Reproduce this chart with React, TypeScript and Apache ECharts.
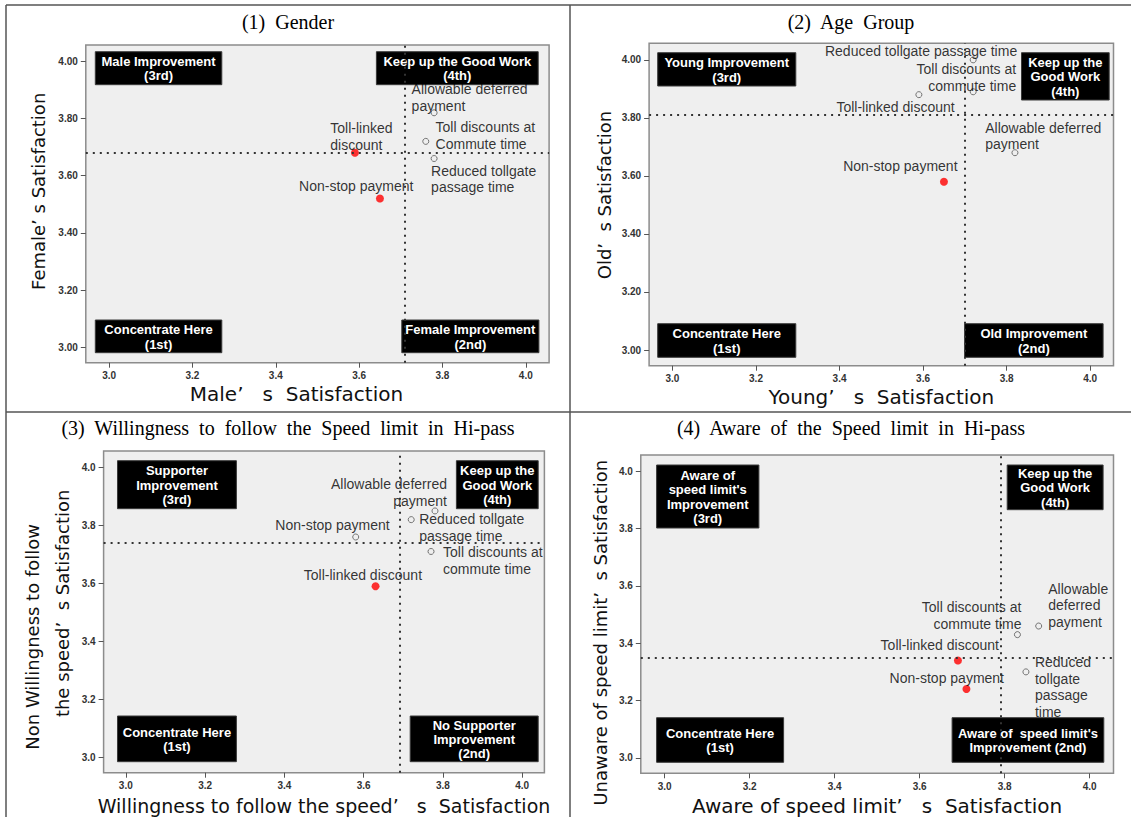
import React, { useEffect, useRef } from "react";
import * as echarts from "echarts";

// ---------------- data ----------------
const xTicks = [3.0, 3.2, 3.4, 3.6, 3.8, 4.0];
const yTicks = [3.0, 3.2, 3.4, 3.6, 3.8, 4.0];

// (1) Gender: x = Male, y = Female
const p1Labels = ["Allowable deferred\npayment", "Toll discounts at\nCommute time", "Reduced tollgate\npassage time", "Toll-linked\ndiscount", "Non-stop payment"];
const p1X = [3.78, 3.76, 3.78, 3.59, 3.65];
const p1Y = [3.82, 3.72, 3.66, 3.68, 3.52];
const p1Red = [false, false, false, true, true];
const p1CutX = 3.71;
const p1CutY = 3.68;

// (2) Age group: x = Young, y = Old
const p2Labels = ["Reduced tollgate passage time", "Toll discounts at\ncommute time", "Toll-linked discount", "Allowable deferred\npayment", "Non-stop payment"];
const p2X = [3.72, 3.72, 3.59, 3.82, 3.65];
const p2Y = [4.0, 3.89, 3.88, 3.68, 3.58];
const p2Red = [false, false, false, false, true];
const p2CutX = 3.70;
const p2CutY = 3.806;

// (3) Willingness to follow speed limit
const p3Labels = ["Allowable deferred\npayment", "Reduced tollgate\npassage time", "Non-stop payment", "Toll discounts at\ncommute time", "Toll-linked discount"];
const p3X = [3.78, 3.72, 3.58, 3.77, 3.63];
const p3Y = [3.85, 3.82, 3.76, 3.71, 3.59];
const p3Red = [false, false, false, false, true];
const p3CutX = 3.69;
const p3CutY = 3.74;

// (4) Aware of speed limit
const p4Labels = ["Toll discounts at\ncommute time", "Allowable\ndeferred\npayment", "Toll-linked discount", "Reduced\ntollgate\npassage\ntime", "Non-stop payment"];
const p4X = [3.83, 3.88, 3.69, 3.85, 3.71];
const p4Y = [3.43, 3.46, 3.34, 3.30, 3.24];
const p4Red = [false, false, true, false, true];
const p4CutX = 3.79;
const p4CutY = 3.35;

// ---------------- layout (pixels / styling) ----------------
const LH = 16.7;
// label offsets from point: [dx, dy of first line centre, align]
const p1Layout: any[] = [[-22.5, -23.7, "left"], [9.8, -14, "left"], [-3, 12, "left"], [-24.7, -24.7, "left"], [33.5, -12.3, "right"]];
const p2Layout: any[] = [[44, -8.6, "right"], [43, -22.7, "right"], [35.8, 12.6, "right"], [-29.7, -25, "left"], [13.6, -16, "right"]];
const p3Layout: any[] = [[12, -26.7, "right"], [8, -0.7, "left"], [34, -11.7, "right"], [12, 1, "left"], [46.5, -11.7, "right"]];
const p4Layout: any[] = [[4, -27.6, "right"], [9.6, -37.4, "left"], [41, -15.7, "right"], [9, -10, "left"], [37.6, -10.6, "right"]];

const panels = [
  {
    title: "(1)  Gender", tx: 288, ty: 22,
    grid: { left: 85.8, top: 45, width: 463.3, height: 317.7 },
    xName: "Male\u2019   s  Satisfaction", xGap: 20.3, xFont: 20, xPad: [0, 42, 0, 0],
    yName: "Female\u2019 s Satisfaction", yGap: 37.6, yPad: [0, 0, 0, 25], yRich: false, yDigits: 2,
    labels: p1Labels, xs: p1X, ys: p1Y, red: p1Red, cutX: p1CutX, cutY: p1CutY, layout: p1Layout,
    boxes: [
      [95.3, 51.7, 126.5, 33, "Male Improvement\n(3rd)"],
      [376.4, 51.7, 161.8, 33, "Keep up the Good Work\n(4th)"],
      [95.3, 320, 126.5, 32.7, "Concentrate Here\n(1st)"],
      [401.8, 320, 137.1, 32.7, "Female Improvement\n(2nd)"],
    ],
  },
  {
    title: "(2)  Age  Group", tx: 851, ty: 22,
    grid: { left: 649.1, top: 43.3, width: 464.4, height: 322.4 },
    xName: "Young\u2019   s  Satisfaction", xGap: 20.3, xFont: 20, xPad: [0, 0, 0, 0],
    yName: "Old\u2019  s Satisfaction", yGap: 34.4, yPad: [0, 0, 0, 19], yRich: false, yDigits: 2,
    labels: p2Labels, xs: p2X, ys: p2Y, red: p2Red, cutX: p2CutX, cutY: p2CutY, layout: p2Layout,
    boxes: [
      [657.7, 52.7, 138.1, 33.3, "Young Improvement\n(3rd)"],
      [1021.5, 52.7, 87.7, 47.3, "Keep up the\nGood Work\n(4th)"],
      [657.7, 323.7, 138.1, 33.6, "Concentrate Here\n(1st)"],
      [964.6, 323.7, 138.5, 33.6, "Old Improvement\n(2nd)"],
    ],
  },
  {
    title: "(3)  Willingness  to  follow  the  Speed  limit  in  Hi-pass", tx: 288, ty: 428.3,
    grid: { left: 103.6, top: 451, width: 440.8, height: 321.7 },
    xName: "Willingness to follow the speed\u2019   s  Satisfaction", xGap: 22.3, xFont: 19, xPad: [0, 0, 0, 0],
    yName: "{a|Non Willingness to follow}\n{b|the speed\u2019  s Satisfaction}", yGap: 14, yPad: [0, 0, 0, 17], yRich: true, yDigits: 1,
    labels: p3Labels, xs: p3X, ys: p3Y, red: p3Red, cutX: p3CutX, cutY: p3CutY, layout: p3Layout,
    boxes: [
      [117.5, 460.7, 118.9, 48, "Supporter\nImprovement\n(3rd)"],
      [456.4, 460.7, 81.8, 48, "Keep up the\nGood Work\n(4th)"],
      [117.5, 716, 118.9, 45.7, "Concentrate Here\n(1st)"],
      [410.2, 716, 128, 45.7, "No Supporter\nImprovement\n(2nd)"],
    ],
  },
  {
    title: "(4)  Aware  of  the  Speed  limit  in  Hi-pass", tx: 851, ty: 428.3,
    grid: { left: 640.8, top: 455, width: 472.7, height: 318.3 },
    xName: "Aware of speed limit\u2019   s  Satisfaction", xGap: 21.7, xFont: 20, xPad: [0, 0, 0, 0],
    yName: "Unaware of speed limit\u2019  s Satisfaction", yGap: 30.4, yPad: [0, 37, 0, 0], yRich: false, yDigits: 1,
    labels: p4Labels, xs: p4X, ys: p4Y, red: p4Red, cutX: p4CutX, cutY: p4CutY, layout: p4Layout,
    boxes: [
      [656.6, 465, 102.3, 63, "Aware of\nspeed limit's\nImprovement\n(3rd)"],
      [1007.2, 465, 95.9, 44.7, "Keep up the\nGood Work\n(4th)"],
      [656.6, 717.7, 127, 44.6, "Concentrate Here\n(1st)"],
      [952.1, 717.7, 151.7, 44.6, "Aware of  speed limit's\nImprovement (2nd)"],
    ],
  },
];

const NAME_FONT = "'DejaVu Sans', 'Liberation Sans', sans-serif";
const LABEL_FONT = "'Liberation Sans', Arial, sans-serif";

function buildOption() {
  const tickLabel = { fontFamily: LABEL_FONT, fontWeight: "bold", fontSize: 10, color: "#333", margin: 8 };

  const graphic: any[] = [];
  const lineStyle = { stroke: "#555", lineWidth: 1.5 };
  [
    [6, 5, 1131, 5],
    [6, 5, 6, 817],
    [570, 5, 570, 817],
    [6, 412, 1131, 412],
  ].forEach(([x1, y1, x2, y2]) =>
    graphic.push({ type: "line", z: 1, shape: { x1, y1, x2, y2 }, style: lineStyle })
  );

  panels.forEach((p) => {
    graphic.push({
      type: "text",
      z: 1,
      style: {
        text: p.title, x: p.tx, y: p.ty,
        font: "20px 'Liberation Serif', 'Times New Roman', serif",
        fill: "#000", align: "center", verticalAlign: "middle",
        textAlign: "center", textVerticalAlign: "middle",
      },
    });
    p.boxes.forEach((b: any) => {
      const [x, y, w, h, t] = b;
      graphic.push({
        type: "rect", z: 1,
        shape: { x, y, width: w, height: h },
        style: { fill: "#000", stroke: "#3a3a3a", lineWidth: 1 },
      });
      graphic.push({
        type: "text", z: 1,
        style: {
          text: t, x: x + w / 2, y: y + h / 2 + 0.5,
          font: "bold 13px 'Liberation Sans', Arial, sans-serif",
          fill: "#fff", align: "center", verticalAlign: "middle",
          textAlign: "center", textVerticalAlign: "middle", lineHeight: 14.3,
        },
      });
    });
  });

  const rich = {
    a: { fontFamily: NAME_FONT, fontSize: 18, color: "#111", lineHeight: 30, padding: [0, 67, 0, 0] },
    b: { fontFamily: NAME_FONT, fontSize: 18, color: "#111", lineHeight: 30 },
  };

  return {
    animation: false,
    backgroundColor: "#fff",
    grid: panels.map((p) => ({
      ...p.grid,
      show: true,
      outerBoundsMode: "none",
      containLabel: false,
      backgroundColor: "#efefef",
      borderColor: "#8c8c8c",
      borderWidth: 1.5,
    })),
    xAxis: panels.map((p, i) => ({
      type: "value",
      gridIndex: i,
      min: 2.944,
      max: 4.056,
      name: p.xName,
      nameLocation: "middle",
      nameGap: p.xGap,
      nameTextStyle: {
        fontFamily: NAME_FONT, fontSize: p.xFont, color: "#111", lineHeight: 22, padding: p.xPad,
      },
      axisLine: { show: false },
      axisTick: { show: true, length: 5, customValues: xTicks, lineStyle: { color: "#555", width: 1 } },
      axisLabel: { ...tickLabel, customValues: xTicks, formatter: (v: number) => v.toFixed(1) },
      splitLine: { show: false },
    })),
    yAxis: panels.map((p, i) => ({
      type: "value",
      gridIndex: i,
      min: 2.946,
      max: 4.057,
      name: p.yName,
      nameLocation: "middle",
      nameGap: p.yGap,
      nameTextStyle: {
        fontFamily: NAME_FONT, fontSize: 18, color: "#111",
        lineHeight: p.yRich ? 30 : 20,
        padding: p.yPad,
        ...(p.yRich ? { rich } : {}),
      },
      axisLine: { show: false },
      axisTick: { show: true, length: 5, customValues: yTicks, lineStyle: { color: "#555", width: 1 } },
      axisLabel: { ...tickLabel, customValues: yTicks, formatter: (v: number) => v.toFixed(p.yDigits) },
      splitLine: { show: false },
    })),
    series: panels.map((p, i) => ({
      type: "scatter",
      xAxisIndex: i,
      yAxisIndex: i,
      z: 3,
      data: p.labels.map((name: string, k: number) => {
        const red = p.red[k];
        const [dx, dy, align] = p.layout[k];
        return {
          name,
          value: [p.xs[k], p.ys[k]],
          symbolSize: red ? 8 : 6,
          itemStyle: red
            ? { color: "#ff0000", borderWidth: 0 }
            : { color: "#efefef", borderColor: "#555", borderWidth: 1 },
          label: {
            show: true,
            position: "inside",
            offset: [dx, dy - LH / 2],
            align,
            verticalAlign: "top",
            formatter: "{b}",
            color: "#000",
            fontFamily: LABEL_FONT,
            fontSize: 14,
            lineHeight: LH,
            textBorderWidth: 0,
          },
        };
      }),
      markLine: {
        silent: true,
        symbol: ["none", "none"],
        label: { show: false },
        lineStyle: { color: "#333", width: 2, type: [2, 5] },
        data: [{ xAxis: p.cutX }, { yAxis: p.cutY }],
      },
    })),
    graphic,
  };
}

export default function App() {
  const ref = useRef<HTMLDivElement>(null);
  useEffect(() => {
    if (!ref.current) return;
    const chart = echarts.init(ref.current, undefined, { renderer: "svg" });
    chart.setOption(buildOption() as any);
    return () => chart.dispose();
  }, []);
  return (
    <div
      ref={ref}
      style={{ position: "absolute", left: 0, top: 0, width: 1131, height: 817, background: "#fff" }}
    />
  );
}
